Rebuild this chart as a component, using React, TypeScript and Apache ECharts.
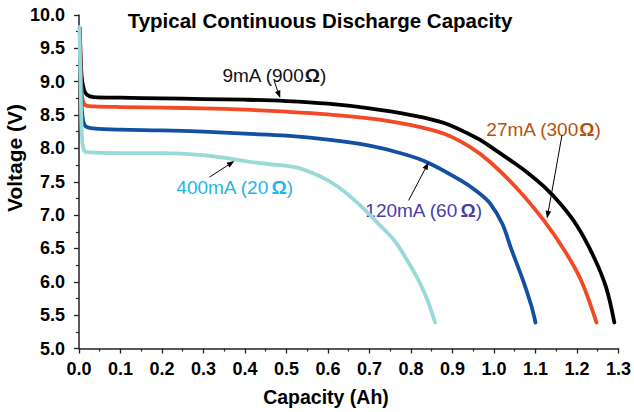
import React, { useEffect, useRef } from "react";
import * as echarts from "echarts";

// ---- data ----
const blackX = [0.002, 0.006, 0.012, 0.02, 0.035, 0.1, 0.2, 0.3, 0.4, 0.5, 0.6, 0.7, 0.8, 0.88, 0.96, 1.0, 1.04, 1.08, 1.12, 1.16, 1.2, 1.24, 1.27, 1.29];
const blackY = [9.8, 9.1, 8.88, 8.8, 8.77, 8.76, 8.75, 8.74, 8.73, 8.71, 8.67, 8.6, 8.5, 8.38, 8.15, 7.99, 7.82, 7.64, 7.43, 7.17, 6.84, 6.38, 5.92, 5.39];

const redX = [0.002, 0.006, 0.01, 0.018, 0.035, 0.1, 0.2, 0.3, 0.4, 0.5, 0.6, 0.7, 0.8, 0.88, 0.94, 0.99, 1.06, 1.12, 1.17, 1.21, 1.247];
const redY = [9.8, 8.9, 8.7, 8.64, 8.63, 8.62, 8.61, 8.6, 8.58, 8.55, 8.51, 8.45, 8.35, 8.22, 8.03, 7.8, 7.37, 6.92, 6.47, 6.02, 5.39];

const blueX = [0.002, 0.005, 0.009, 0.016, 0.035, 0.1, 0.2, 0.3, 0.4, 0.5, 0.6, 0.7, 0.78, 0.84, 0.92, 0.96, 0.99, 1.02, 1.04, 1.07, 1.09, 1.1];
const blueY = [9.8, 8.8, 8.45, 8.33, 8.3, 8.28, 8.27, 8.25, 8.22, 8.19, 8.13, 8.04, 7.92, 7.79, 7.52, 7.35, 7.18, 6.87, 6.52, 6.02, 5.64, 5.39];

const cyanX = [0.001, 0.004, 0.007, 0.012, 0.025, 0.1, 0.2, 0.25, 0.3, 0.35, 0.4, 0.45, 0.52, 0.56, 0.6, 0.64, 0.68, 0.72, 0.76, 0.79, 0.82, 0.84, 0.858];
const cyanY = [9.82, 8.9, 8.2, 7.97, 7.94, 7.93, 7.93, 7.92, 7.9, 7.86, 7.81, 7.77, 7.72, 7.64, 7.52, 7.35, 7.13, 6.88, 6.62, 6.33, 6.0, 5.72, 5.39];

const seriesNames = ["9mA (900Ω)", "27mA (300Ω)", "120mA (60 Ω)", "400mA (20 Ω)"];
const seriesColors = ["#000000", "#f14a24", "#1150a2", "#99d9d6"];

// annotation labels: rich text, anchor (left / middle) in data coords, colour
const labelTexts = ["9mA (900{b|Ω})", "27mA (300{b|Ω})", "120mA (60{s| }{b|Ω})", "400mA (20{s| }{b|Ω})"];
const labelAnchors = [[0.3456, 9.1], [0.9815, 8.28], [0.69, 7.07], [0.2345, 7.41]];
const labelColors = ["#111111", "#b5520f", "#4a3daa", "#1cb7ea"];
// arrows: from -> to in data coords
const arrowFrom = [[0.4704, 9.01], [1.1639, 8.2], [0.7943, 7.22], [0.3144, 7.57]];
const arrowTo = [[0.4848, 8.755], [1.1279, 6.95], [0.8423, 7.79], [0.3744, 7.81]];

const titleText = "Typical Continuous Discharge Capacity";
const xName = "Capacity (Ah)";
const yName = "Voltage (V)";

const FONT = '"Liberation Sans", Arial, sans-serif';

function zip(xs: number[], ys: number[]) {
  return xs.map((x, i) => [x, ys[i]]);
}

export default function App() {
  const ref = useRef<HTMLDivElement>(null);
  useEffect(() => {
    if (!ref.current) return;
    const chart = echarts.init(ref.current, undefined, { renderer: "svg" });
    const axisColor = "#222";
    const datasets = [zip(blackX, blackY), zip(redX, redY), zip(blueX, blueY), zip(cyanX, cyanY)];
    chart.setOption({
      animation: false,
      grid: { left: 79, right: 13.3, top: 15, bottom: 63.5, containLabel: false },
      xAxis: {
        type: "value",
        min: 0,
        max: 1.3,
        interval: 0.1,
        axisLine: { show: true, lineStyle: { color: axisColor, width: 1.5 } },
        axisTick: { show: true, length: 5, lineStyle: { color: axisColor, width: 1.3 } },
        minorTick: { show: true, splitNumber: 2, length: 3, lineStyle: { color: axisColor, width: 1.2 } },
        splitLine: { show: false },
        axisLabel: {
          formatter: (v: number) => v.toFixed(1),
          fontSize: 18,
          fontWeight: "bold",
          fontFamily: FONT,
          color: "#000",
          margin: 11,
        },
      },
      yAxis: {
        type: "value",
        min: 5,
        max: 10,
        interval: 0.5,
        offset: 2,
        axisLine: { show: true, lineStyle: { color: axisColor, width: 1.5 } },
        axisTick: { show: true, length: 5, lineStyle: { color: axisColor, width: 1.3 } },
        minorTick: { show: true, splitNumber: 2, length: 3, lineStyle: { color: axisColor, width: 1.2 } },
        splitLine: { show: false },
        axisLabel: {
          formatter: (v: number) => v.toFixed(1),
          fontSize: 18,
          fontWeight: "bold",
          fontFamily: FONT,
          color: "#000",
          margin: 12,
        },
      },
      series: datasets.map((d, i) => ({
        type: "line",
        name: seriesNames[i],
        data: d,
        showSymbol: false,
        symbol: "none",
        smooth: 0.35,
        lineStyle: { width: 3.8, color: seriesColors[i], cap: "round", join: "round" },
        z: 2 + i,
      })),
    });

    const toPx = (p: number[]) => chart.convertToPixel({ gridIndex: 0 }, p) as number[];
    const graphics: any[] = [];
    graphics.push({
      type: "text",
      x: 320,
      y: 20,
      style: {
        text: titleText,
        fill: "#000",
        fontSize: 20.5,
        fontWeight: "bold",
        fontFamily: FONT,
        align: "center",
        textAlign: "center",
        verticalAlign: "middle",
        textVerticalAlign: "middle",
      },
    });
    graphics.push({
      type: "text",
      x: 14,
      y: 158,
      rotation: Math.PI / 2,
      style: {
        text: yName,
        fill: "#000",
        fontSize: 21,
        fontWeight: "bold",
        fontFamily: FONT,
        align: "center",
        textAlign: "center",
        verticalAlign: "middle",
        textVerticalAlign: "middle",
      },
    });
    graphics.push({
      type: "text",
      x: 326,
      y: 397,
      style: {
        text: xName,
        fill: "#000",
        fontSize: 19.5,
        fontWeight: "bold",
        fontFamily: FONT,
        align: "center",
        textAlign: "center",
        verticalAlign: "middle",
        textVerticalAlign: "middle",
      },
    });
    labelTexts.forEach((t, i) => {
      const p = toPx(labelAnchors[i]);
      const c = labelColors[i];
      graphics.push({
        type: "text",
        x: p[0],
        y: p[1],
        style: {
          text: t,
          fill: c,
          fontSize: 19,
          fontFamily: FONT,
          align: "left",
          textAlign: "left",
          verticalAlign: "middle",
          textVerticalAlign: "middle",
          rich: {
            b: { fontSize: 19, fontWeight: "bold", fontFamily: FONT, fill: c, color: c },
            s: { fontSize: 8, fontFamily: FONT, fill: c, color: c },
          },
        },
      });
    });
    arrowFrom.forEach((f, i) => {
      const a = toPx(f);
      const b = toPx(arrowTo[i]);
      const dx = b[0] - a[0];
      const dy = b[1] - a[1];
      const len = Math.sqrt(dx * dx + dy * dy) || 1;
      const ux = dx / len;
      const uy = dy / len;
      const hl = 7.5;
      const hw = 2.8;
      const bx = b[0] - ux * hl;
      const by = b[1] - uy * hl;
      graphics.push({
        type: "line",
        shape: { x1: a[0], y1: a[1], x2: bx, y2: by },
        style: { stroke: "#000", lineWidth: 1 },
        z: 20,
      });
      graphics.push({
        type: "polygon",
        shape: {
          points: [
            [b[0], b[1]],
            [bx - uy * hw, by + ux * hw],
            [bx + uy * hw, by - ux * hw],
          ],
        },
        style: { fill: "#000" },
        z: 20,
      });
    });
    chart.setOption({ graphic: graphics });

    return () => chart.dispose();
  }, []);

  return (
    <div
      ref={ref}
      style={{ position: "fixed", left: 0, top: 0, width: 634, height: 412, background: "#fff" }}
    />
  );
}
